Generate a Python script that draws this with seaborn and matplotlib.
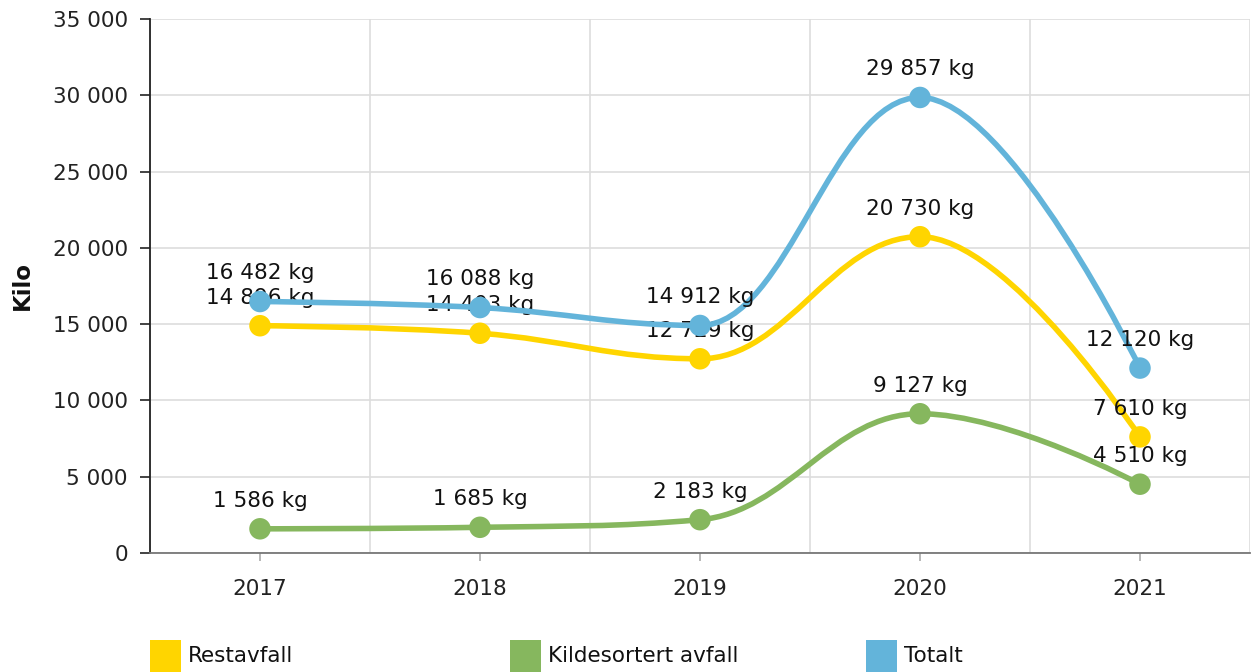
import numpy as np
import pandas as pd
import matplotlib
matplotlib.use("Agg")
import matplotlib.pyplot as plt
from matplotlib.path import Path
from matplotlib.patches import PathPatch, Rectangle
from matplotlib.ticker import FuncFormatter, FixedLocator
import seaborn as sns

years = ["2017", "2018", "2019", "2020", "2021"]
restavfall = [14896, 14403, 12729, 20730, 7610]
kildesortert = [1586, 1685, 2183, 9127, 4510]
totalt = [16482, 16088, 14912, 29857, 12120]
series_names = ["Restavfall", "Kildesortert avfall", "Totalt"]
series_values = [restavfall, kildesortert, totalt]
colors = ["#FFD500", "#86B75E", "#63B4DA"]
yticks = [0, 5000, 10000, 15000, 20000, 25000, 30000, 35000]

sns.set_theme(style="white")
plt.rcParams["font.family"] = ["DejaVu Sans"]

W, H = 1253, 672
fig = plt.figure(figsize=(W / 100, H / 100), dpi=100)
ax = fig.add_axes([150 / W, (H - 553) / H, 1100 / W, 534 / H])

rows = []
for name, vals in zip(series_names, series_values):
    for i, (yr, v) in enumerate(zip(years, vals)):
        rows.append({"serie": name, "x": i, "year": yr, "value": v})
df = pd.DataFrame(rows)


def spline_path(xs, ys, smoothing=1.5):
    """Highcharts-style spline through the given data points (Bezier control points)."""
    n = len(xs)
    denom = smoothing + 1
    left = [None] * n
    right = [None] * n
    for i in range(n):
        px, py = xs[i], ys[i]
        if 0 < i < n - 1:
            lx, ly = xs[i - 1], ys[i - 1]
            nx, ny = xs[i + 1], ys[i + 1]
            lcx = (smoothing * px + lx) / denom
            lcy = (smoothing * py + ly) / denom
            rcx = (smoothing * px + nx) / denom
            rcy = (smoothing * py + ny) / denom
            if rcx != lcx:
                corr = ((rcy - lcy) * (rcx - px)) / (rcx - lcx) + py - rcy
                lcy += corr
                rcy += corr
            if lcy > max(ly, py):
                lcy = max(ly, py); rcy = 2 * py - lcy
            elif lcy < min(ly, py):
                lcy = min(ly, py); rcy = 2 * py - lcy
            if rcy > max(ny, py):
                rcy = max(ny, py); lcy = 2 * py - rcy
            elif rcy < min(ny, py):
                rcy = min(ny, py); lcy = 2 * py - rcy
            left[i] = (lcx, lcy)
            right[i] = (rcx, rcy)
        else:
            left[i] = (px, py)
            right[i] = (px, py)
    verts = [(xs[0], ys[0])]
    codes = [Path.MOVETO]
    for i in range(1, n):
        verts += [right[i - 1], left[i], (xs[i], ys[i])]
        codes += [Path.CURVE4] * 3
    return Path(verts, codes)


for k, (name, color) in enumerate(zip(series_names, colors)):
    sub = df[df["serie"] == name]
    xs = sub["x"].to_numpy(dtype=float)
    ys = sub["value"].to_numpy(dtype=float)
    z = 3 + 3 * k
    ax.add_patch(PathPatch(spline_path(xs, ys), facecolor="none", edgecolor=color,
                           lw=4.0, capstyle="round", joinstyle="round", zorder=z))
    sns.scatterplot(data=sub, x="x", y="value", ax=ax, color=color, s=240,
                    edgecolor="none", linewidth=0, zorder=z + 1, legend=False)
    for xv, yv in zip(xs, ys):
        ax.annotate(f"{int(yv):,} kg".replace(",", " "), (xv, yv), xytext=(0, 13),
                    textcoords="offset points", ha="center", va="bottom",
                    fontsize=15.5, color="#111111", zorder=z + 2)

ax.set_xlim(-0.5, 4.5)
ax.set_ylim(0, 35000)
ax.set_xticks(range(len(years)))
ax.set_xticklabels(years)
ax.xaxis.set_minor_locator(FixedLocator(np.arange(-0.5, 4.6, 1.0)))
ax.set_yticks(yticks)
ax.yaxis.set_major_formatter(FuncFormatter(lambda v, p: f"{int(v):,}".replace(",", " ")))
ax.grid(False)
ax.grid(axis="y", which="major", color="#dddddd", lw=1.2)
ax.grid(axis="x", which="minor", color="#dddddd", lw=1.2)
ax.set_axisbelow(True)

for s in ["top", "right"]:
    ax.spines[s].set_visible(False)
ax.spines["left"].set_color("#222222")
ax.spines["left"].set_linewidth(1.3)
ax.spines["bottom"].set_color("#777777")
ax.spines["bottom"].set_linewidth(1.3)

ax.tick_params(axis="y", which="major", left=True, length=7, width=1.2, color="#222222",
               pad=9, labelsize=15.5, labelcolor="#222222")
ax.tick_params(axis="x", which="major", bottom=True, length=6, width=1.2, color="#aaaaaa",
               pad=13, labelsize=15.5, labelcolor="#222222")
ax.tick_params(axis="x", which="minor", bottom=False, length=0)
ax.set_xlabel("")
ax.set_ylabel("Kilo", fontsize=16.5, fontweight="bold", color="#111111")
ax.yaxis.set_label_coords(-116 / 1100, 0.5)

# legend
leg_x = [150, 510, 866]
for lx, name, color in zip(leg_x, series_names, colors):
    fig.patches.append(Rectangle((lx / W, 0), 31 / W, 32 / H, transform=fig.transFigure,
                                 facecolor=color, edgecolor="none"))
    fig.text((lx + 38) / W, (H - 656) / H, name, ha="left", va="center", fontsize=15.5,
             color="#111111", family=["Liberation Sans Narrow", "DejaVu Sans Condensed", "DejaVu Sans"])

fig.savefig("out.png", dpi=100)
